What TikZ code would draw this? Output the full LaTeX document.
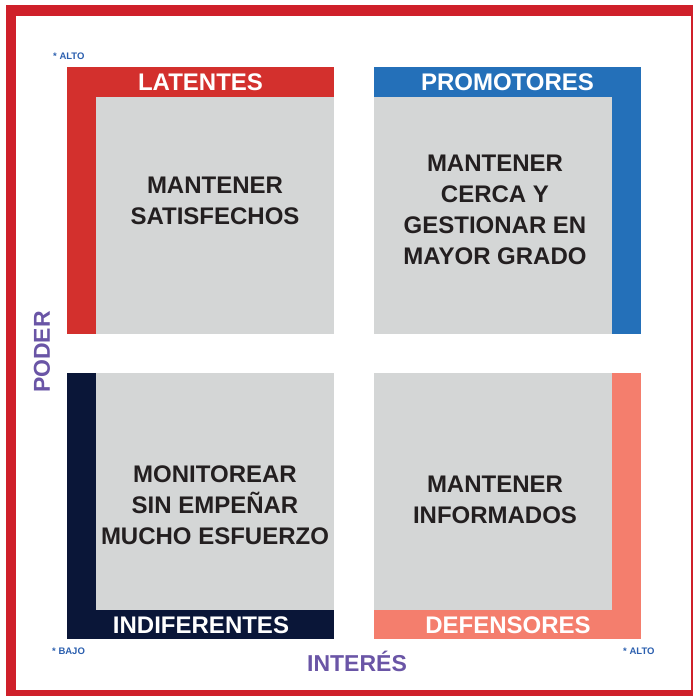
\documentclass[tikz,border=0pt]{standalone}
\usepackage{fontspec}
\setmainfont{Liberation Sans}
\definecolor{framered}{HTML}{CF202A}
\definecolor{qred}{HTML}{D3302D}
\definecolor{qblue}{HTML}{2470B9}
\definecolor{qnavy}{HTML}{0A1638}
\definecolor{qsalmon}{HTML}{F47E6D}
\definecolor{qgray}{HTML}{D4D6D6}
\definecolor{qtext}{HTML}{231F20}
\definecolor{axispurple}{HTML}{6A55A6}
\definecolor{smallblue}{HTML}{2B5FAF}
\tikzset{
  header/.style={anchor=base, inner sep=0pt, text=white, font=\bfseries\fontsize{24}{28}\selectfont},
  maintext/.style={anchor=north, inner sep=0pt, align=center, text=qtext, font=\bfseries\fontsize{24}{31}\selectfont},
  axislabel/.style={inner sep=0pt, text=axispurple, font=\bfseries\fontsize{23}{26}\selectfont},
  smalllabel/.style={anchor=base west, inner sep=0pt, text=smallblue, font=\bfseries\fontsize{9.5}{11}\selectfont}
}
\begin{document}
\begin{tikzpicture}[x=1pt,y=-1pt]
\useasboundingbox (0,0) rectangle (693,696);
\fill[white] (0,0) rectangle (693,696);
% frame
\fill[framered] (6,5) rectangle (693,696);
\fill[white] (16,16) rectangle (690.7,690);
% quadrants
\fill[qred] (67,67) rectangle (334,334);
\fill[qgray] (96,97) rectangle (334,334);
\fill[qblue] (374,67) rectangle (641,334);
\fill[qgray] (374,97) rectangle (612,334);
\fill[qnavy] (67,373) rectangle (334,639);
\fill[qgray] (96,373) rectangle (334,610);
\fill[qsalmon] (374,373) rectangle (641,639);
\fill[qgray] (374,373) rectangle (612,610);
% headers
\node[header] (hlat) at (200.5,90) {LATENTES};
\node[header] (hpro) at (507.5,90) {PROMOTORES};
\node[header] (hind) at (201,633) {INDIFERENTES};
\node[header] (hdef) at (508,633) {DEFENSORES};
% main texts
\node[maintext] (tlat) at (215,176.8) {MANTENER\\SATISFECHOS};
\node[maintext] (tpro) at (495,154.8) {MANTENER\\CERCA Y\\GESTIONAR EN\\MAYOR GRADO};
\node[maintext] (tind) at (215,465.8) {MONITOREAR\\SIN EMPEÑAR\\MUCHO ESFUERZO};
\node[maintext] (tdef) at (495,475.8) {MANTENER\\INFORMADOS};
% axis labels
\node[axislabel, rotate=90] (poder) at (42,352) {PODER};
\node[axislabel, anchor=base] (interes) at (357,671) {INTERÉS};
\node[smalllabel] (altoy) at (53,59) {* ALTO};
\node[smalllabel] (bajo) at (52,654) {* BAJO};
\node[smalllabel] (altox) at (623,654) {* ALTO};
\end{tikzpicture}
\end{document}
